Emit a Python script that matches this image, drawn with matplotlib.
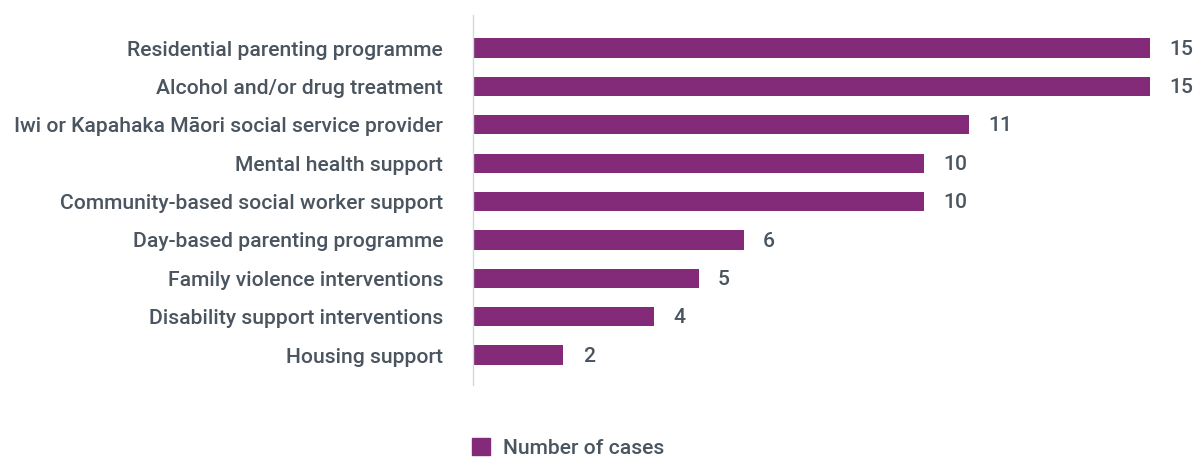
import matplotlib.pyplot as plt
from matplotlib.patches import Patch

plt.rcParams["font.family"] = ["Roboto", "DejaVu Sans"]
plt.rcParams["font.weight"] = "medium"

categories = [
    "Residential parenting programme",
    "Alcohol and/or drug treatment",
    "Iwi or Kapahaka Māori social service provider",
    "Mental health support",
    "Community-based social worker support",
    "Day-based parenting programme",
    "Family violence interventions",
    "Disability support interventions",
    "Housing support",
]
cases = [15, 15, 11, 10, 10, 6, 5, 4, 2]

bar_color = "#832A78"
text_color = "#4A5560"

fig = plt.figure(figsize=(11.95, 4.57), dpi=100)
ax = fig.add_axes([473 / 1195, 1 - 385 / 457, 1 - 473 / 1195, 370 / 457])

y = list(range(len(categories)))
ax.barh(y, cases, height=0.5, color=bar_color)
ax.set_ylim(len(categories) - 1 + 0.78, -0.86)
ax.set_xlim(0, 16)

for yi, v in zip(y, cases):
    ax.text(v + 0.43, yi + 0.03, str(v), va="center", ha="left", fontsize=15.2, color=text_color)

ax.set_yticks(y)
ax.set_yticklabels(categories, fontsize=15.2, color=text_color)
ax.tick_params(axis="y", length=0, pad=21.5)
ax.set_xticks([])
for s in ["top", "right", "bottom"]:
    ax.spines[s].set_visible(False)
ax.spines["left"].set_color("#D3D8DD")
ax.spines["left"].set_linewidth(1)

handle = Patch(color=bar_color, label="Number of cases")
fig.legend(handles=[handle], loc="center left", bbox_to_anchor=(464 / 1195, 1 - 448 / 457),
           frameon=False, fontsize=15.2, handlelength=0.85, handleheight=0.85,
           handletextpad=0.6, labelcolor=text_color, borderaxespad=0)

fig.savefig("out.png", dpi=100)
